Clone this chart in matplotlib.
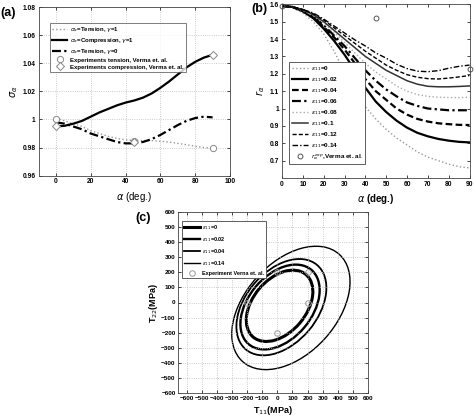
import numpy as np
import matplotlib
matplotlib.use('Agg')
import matplotlib.pyplot as plt
from matplotlib.patches import Ellipse

plt.rcParams['font.family'] = ['Liberation Sans', 'DejaVu Sans']
plt.rcParams['mathtext.fontset'] = 'dejavusans'

# ---- panel (a) data ----
alpha_a = [0, 5, 10, 15, 20, 25, 30, 35, 40, 45, 50, 55, 60, 65, 70, 75, 80, 85, 90]
tension_g1 = [1.001, 0.999, 0.997, 0.995, 0.992, 0.990, 0.988, 0.9865, 0.9855, 0.985,
              0.985, 0.985, 0.9845, 0.984, 0.983, 0.982, 0.981, 0.980, 0.9795]
compression_g1 = [0.995, 0.9955, 0.997, 0.999, 1.002, 1.005, 1.0075, 1.010, 1.012, 1.0135,
                  1.0155, 1.0185, 1.0225, 1.027, 1.032, 1.037, 1.041, 1.044, 1.046]
tension_g0 = [0.998, 0.997, 0.995, 0.993, 0.990, 0.988, 0.986, 0.984, 0.983, 0.983,
              0.984, 0.986, 0.989, 0.9925, 0.996, 0.999, 1.001, 1.002, 1.0015]
exp_alpha = [0, 45, 90]
exp_tension = [1.0, 0.985, 0.98]
exp_compression = [0.995, 0.984, 1.046]

# ---- panel (b) data ----
alpha_b = [0, 5, 10, 15, 20, 25, 30, 35, 40, 45, 50, 55, 60, 65, 70, 75, 80, 85, 90]
eps_labels = ['0', '0.02', '0.04', '0.06', '0.08', '0.1', '0.12', '0.14']
r_eps0 = [1.59, 1.58, 1.55, 1.50, 1.43, 1.33, 1.21, 1.10, 1.01, 0.94, 0.88, 0.83, 0.79,
          0.75, 0.72, 0.70, 0.68, 0.665, 0.658]
r_eps002 = [1.59, 1.585, 1.56, 1.52, 1.46, 1.39, 1.31, 1.22, 1.12, 1.04, 0.98, 0.93, 0.89,
            0.86, 0.84, 0.825, 0.815, 0.808, 0.805]
r_eps004 = [1.59, 1.585, 1.56, 1.525, 1.47, 1.41, 1.34, 1.26, 1.17, 1.10, 1.05, 1.00, 0.965,
            0.94, 0.925, 0.915, 0.91, 0.906, 0.905]
r_eps006 = [1.59, 1.585, 1.565, 1.53, 1.48, 1.42, 1.36, 1.29, 1.22, 1.16, 1.11, 1.07, 1.035,
            1.015, 1.00, 0.995, 0.99, 0.99, 0.99]
r_eps008 = [1.59, 1.585, 1.565, 1.535, 1.49, 1.44, 1.38, 1.32, 1.26, 1.21, 1.17, 1.13, 1.10,
            1.08, 1.07, 1.065, 1.063, 1.063, 1.065]
r_eps010 = [1.59, 1.585, 1.57, 1.54, 1.50, 1.45, 1.40, 1.35, 1.30, 1.26, 1.22, 1.19, 1.16,
            1.14, 1.128, 1.125, 1.125, 1.127, 1.13]
r_eps012 = [1.59, 1.585, 1.57, 1.545, 1.51, 1.465, 1.42, 1.375, 1.33, 1.29, 1.25, 1.22, 1.195,
            1.18, 1.172, 1.17, 1.175, 1.182, 1.19]
r_eps014 = [1.59, 1.585, 1.57, 1.55, 1.515, 1.475, 1.435, 1.395, 1.36, 1.32, 1.29, 1.255, 1.23,
            1.215, 1.212, 1.218, 1.232, 1.243, 1.25]
r_exp_alpha = [0, 45, 90]
r_exp = [1.59, 1.52, 1.23]

# ---- panel (c) data: fitted yield loci (center x, center y, major, minor, angle) ----
locus_labels = ['0', '0.02', '0.04', '0.14']
locus_cx = [15, 18, 27, 90]
locus_cy = [-22, -30, -31, -36]
locus_a = [271, 322, 366, 478]
locus_b = [176, 210, 238, 303]
locus_angle = [50, 50, 50, 48]
exp_T11 = [200, 0, -200, 0, 200]
exp_T22 = [0, 200, 0, -200, 200]

W, H = 474, 417
fig = plt.figure(figsize=(W / 100, H / 100), dpi=100)


def box(l, t, r, b):
    return [l / W, 1 - b / H, (r - l) / W, (b - t) / H]


def style_ax(ax, grid=True):
    ax.tick_params(direction='in', top=True, right=True, length=2.5, width=0.5,
                   labelsize=4.8, pad=2)
    for lab in ax.get_xticklabels() + ax.get_yticklabels():
        lab.set_fontweight('bold')
    for s in ax.spines.values():
        s.set_linewidth(0.6)
        s.set_color('#444444')
    if grid:
        ax.grid(True, linestyle=':', color='#bbbbbb', linewidth=0.6)


# ---------------- (a) ----------------
ax1 = fig.add_axes(box(38.5, 7, 230, 175.7))
ax1.plot(alpha_a, tension_g1, linestyle=':', color='#999999', lw=1.0,
         label=r'$\sigma_\alpha$=Tension, $\gamma$=1')
ax1.plot(alpha_a, compression_g1, '-', color='black', lw=1.6,
         label=r'$\sigma_\alpha$=Compression, $\gamma$=1')
ax1.plot(alpha_a, tension_g0, linestyle=(0, (4, 1.5, 1, 1.5)), color='black', lw=1.6,
         label=r'$\sigma_\alpha$=Tension, $\gamma$=0')
ax1.plot(exp_alpha, exp_tension, 'o', mfc='white', mec='#888888', ms=4.5, mew=0.7,
         label='Experiments tension, Verma et. al.')
ax1.plot(exp_alpha, exp_compression, 'D', mfc='white', mec='#888888', ms=3.8, mew=0.7,
         label='Experiments compression, Verma et. al.')
ax1.set_xlim(-10, 100)
ax1.set_ylim(0.96, 1.08)
ax1.set_xticks([0, 20, 40, 60, 80, 100])
yt = [0.96, 0.98, 1.0, 1.02, 1.04, 1.06, 1.08]
ax1.set_yticks(yt)
ax1.set_yticklabels(['0.96', '0.98', '1', '1.02', '1.04', '1.06', '1.08'])
style_ax(ax1)
ax1.set_xlabel(r'$\alpha$ (deg.)', fontsize=7, labelpad=3)
ax1.set_ylabel(r'$\sigma_\alpha$', fontsize=7, labelpad=2)
leg = ax1.legend(loc='upper left', bbox_to_anchor=(0.045, 0.925), fontsize=4.3,
                 frameon=True, fancybox=False, edgecolor='#444444', handlelength=2.5,
                 labelspacing=0.3, borderpad=0.4, handletextpad=0.4)
leg.get_frame().set_linewidth(0.6)
for t in leg.get_texts():
    t.set_fontweight('bold')

# ---------------- (b) ----------------
ax2 = fig.add_axes(box(282, 4.3, 469.5, 178))
curves = [r_eps0, r_eps002, r_eps004, r_eps006, r_eps008, r_eps010, r_eps012, r_eps014]
styles = [(':', '#999999', 1.0), ('-', 'black', 1.6), ((0, (3, 1.5)), 'black', 1.6),
          ((0, (4, 1.5, 1, 1.5)), 'black', 1.6), (':', '#aaaaaa', 1.0),
          ('-', '#333333', 1.1), ((0, (3, 1.5)), 'black', 1.0),
          ((0, (4, 1.5, 1, 1.5)), 'black', 1.0)]
for vals, lab, (ls, c, lw) in zip(curves, eps_labels, styles):
    ax2.plot(alpha_b, vals, linestyle=ls, color=c, lw=lw,
             label=r'$\epsilon_{11}$=' + lab)
ax2.plot(r_exp_alpha, r_exp, 'o', mfc='none', mec='#555555', ms=3.5, mew=0.7,
         clip_on=False, label=r'$r_\alpha^{exp}$,Verma et. al.')
ax2.set_xlim(0, 90)
ax2.set_ylim(0.6, 1.6)
ax2.set_xticks(range(0, 91, 10))
yb = [0.7, 0.8, 0.9, 1.0, 1.1, 1.2, 1.3, 1.4, 1.5, 1.6]
ax2.set_yticks(yb)
ax2.set_yticklabels(['0.7', '0.8', '0.9', '1', '1.1', '1.2', '1.3', '1.4', '1.5', '1.6'])
style_ax(ax2, grid=False)
ax2.set_xlabel(r'$\alpha$ (deg.)', fontsize=7, labelpad=3, fontweight='bold')
ax2.set_ylabel(r'$r_\alpha$', fontsize=7, labelpad=2)
leg = ax2.legend(loc='lower left', bbox_to_anchor=(0.02, 0.06), fontsize=4.6,
                 frameon=True, fancybox=False, edgecolor='#444444', handlelength=2.6,
                 labelspacing=0.32, borderpad=0.4, handletextpad=0.4, framealpha=1)
leg.get_frame().set_linewidth(0.6)
for t in leg.get_texts():
    t.set_fontweight('bold')

# ---------------- (c) ----------------
ax3 = fig.add_axes(box(178.3, 212, 368, 393))
widths = [2.2, 1.7, 1.3, 1.0]
for lab, cx, cy, a, b, ang, lw in zip(locus_labels, locus_cx, locus_cy, locus_a,
                                       locus_b, locus_angle, widths):
    e = Ellipse((cx, cy), 2 * a, 2 * b, angle=ang, fill=False, edgecolor='black', lw=lw)
    ax3.add_patch(e)
    ax3.plot([], [], '-', color='black', lw=lw, label=r'$\epsilon_{11}$=' + lab)
ax3.plot(exp_T11, exp_T22, 'o', mfc='none', mec='#999999', ms=4, mew=0.7,
         label='Experiment Verna et. al.')
ax3.set_xlim(-655, 600)
ax3.set_ylim(-600, 600)
ax3.set_xticks(range(-600, 601, 100))
ax3.set_yticks(range(-600, 601, 100))
style_ax(ax3)
ax3.tick_params(labelsize=4.6)
ax3.set_xlabel(r'T$_{11}$(MPa)', fontsize=6.5, fontweight='bold', labelpad=2)
ax3.set_ylabel(r'T$_{22}$(MPa)', fontsize=6.5, fontweight='bold', labelpad=1)
leg = ax3.legend(loc='upper left', bbox_to_anchor=(0.004, 0.967), fontsize=4.0,
                 frameon=True, fancybox=False, edgecolor='#444444', handlelength=2.8,
                 labelspacing=0.55, borderpad=0.4, handletextpad=0.4, framealpha=1)
leg.get_frame().set_linewidth(0.6)
for t in leg.get_texts():
    t.set_fontweight('bold')

fig.text(8 / W, 1 - 13 / H, '(a)', fontsize=9, fontweight='bold', ha='center', va='center')
fig.text(259 / W, 1 - 9 / H, '(b)', fontsize=9, fontweight='bold', ha='center', va='center')
fig.text(143 / W, 1 - 218 / H, '(c)', fontsize=9, fontweight='bold', ha='center', va='center')

fig.savefig('out.png', dpi=100)
